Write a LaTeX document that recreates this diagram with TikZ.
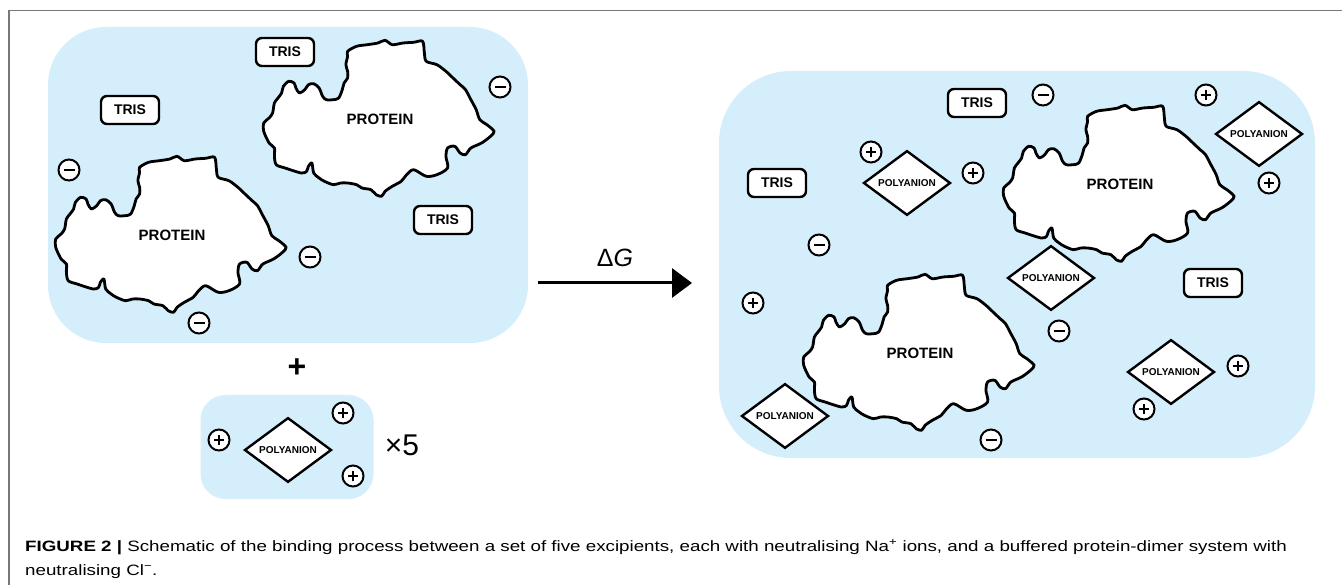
\documentclass[tikz,border=0pt]{standalone}
\usepackage{fontspec}
\setmainfont{Liberation Sans}
\newfontfamily\capfont[FakeStretch=1.25]{Liberation Sans}
\usetikzlibrary{shapes.geometric,arrows.meta}
\definecolor{panelblue}{RGB}{213,238,251}
\definecolor{framegray}{RGB}{120,120,120}
\tikzset{
  panel/.style={fill=panelblue, draw=none, inner sep=0pt},
  trisbox/.style={draw, line width=2.4pt, rounded corners=6pt, fill=white, minimum width=58pt, minimum height=28pt, inner sep=0pt, font=\fontsize{14}{14}\selectfont\bfseries},
  polybox/.style={draw, diamond, line width=2.4pt, fill=white, minimum width=87pt, minimum height=51pt, inner sep=0pt, font=\fontsize{10}{10}\selectfont\bfseries},
  ion/.style={draw, circle, line width=2pt, fill=white, minimum size=21pt, inner sep=0pt},
  cation/.style={ion, path picture={\draw[line width=1.3pt]
      ([xshift=-5pt]path picture bounding box.center) -- ([xshift=5pt]path picture bounding box.center)
      ([yshift=-5pt]path picture bounding box.center) -- ([yshift=5pt]path picture bounding box.center);}},
  anion/.style={ion, path picture={\draw[line width=1.3pt]
      ([xshift=-5.5pt]path picture bounding box.center) -- ([xshift=5.5pt]path picture bounding box.center);}},
  protlabel/.style={font=\fontsize{15}{15}\selectfont\bfseries},
  captext/.style={anchor=base west, font=\capfont\fontsize{15}{15}\selectfont, inner sep=0pt},
  protein/.pic={
    \draw[line width=2.8pt, fill=white, line join=round] plot[smooth cycle, tension=0.5] coordinates {
      (-30.4,-66.7) (-21.4,-71.7) (-10.7,-73.3) (0,-75) (7.1,-77.7) (14.3,-73.3) (25,-75) (35.7,-75.7)
      (44.6,-76.7) (46.4,-65) (48.2,-56.7) (58.9,-53.3) (67.9,-46.7) (75,-40) (82.1,-33.3) (87.5,-28.3)
      (92.9,-18.3) (98.2,-8.3) (101.8,1.7) (108.9,6.7) (116.1,13.3) (112.5,18.3) (103.6,25) (92.9,30)
      (87.5,36.7) (82.1,35) (76.8,28.3) (69.6,30) (67.9,38.3) (69.6,50) (58.9,56.7) (48.2,58.3)
      (35.7,51.7) (28.6,56.7) (23.2,63.3) (14.3,68.3) (7.1,73.3) (3.6,78.3) (-1.8,76.7) (-7.1,71.7)
      (-16.1,70) (-21.4,66.7) (-30.4,65) (-37.5,65) (-44.6,66.7) (-53.6,63.3) (-58.9,60) (-64.3,55)
      (-66.1,45) (-69.6,48.3) (-71.4,53.3) (-76.8,55) (-92.9,50) (-101.8,46.7) (-103.6,38.3) (-103.6,30)
      (-108.9,25) (-114.3,13.3) (-114.3,5) (-108.9,0) (-105.4,-5) (-103.6,-15) (-100,-20) (-96.4,-25)
      (-94.6,-31.7) (-89.3,-36.7) (-83.9,-35) (-82.1,-30) (-78.6,-25) (-73.2,-28.3) (-69.6,-33.3) (-64.3,-34.3)
      (-58.9,-30) (-55.4,-21.7) (-51.8,-18.3) (-44.6,-18.3) (-39.3,-20) (-35.7,-28.3) (-33.9,-35) (-30.4,-40)
      (-30.4,-46.7) (-32.1,-53.3) (-30.4,-61.7)};
    \node[protlabel] (-label) at (2,1) {PROTEIN};
  }
}
\begin{document}
\begin{tikzpicture}[x=1pt,y=-1pt]
\useasboundingbox (0,0) rectangle (1342,585);
% frame
\coordinate (fA) at (9,585);
\coordinate (fB) at (9,10.5);
\coordinate (fC) at (1342,10.5);
\draw[framegray, line width=1.3pt] (fA) -- (fB) -- (fC);

% panels
\node[panel, rounded corners=58pt, minimum width=480pt, minimum height=316pt] (lp) at (288,185) {};
\node[panel, rounded corners=72pt, minimum width=596pt, minimum height=387pt] (rp) at (1017,264.5) {};
\node[panel, rounded corners=25pt, minimum width=173pt, minimum height=104pt] (sp) at (287,447) {};

% left panel
\pic (pA) at (378,118) {protein};
\pic (pB) at (170,234) {protein};
\node[trisbox] (t1) at (285,52) {TRIS};
\node[trisbox] (t2) at (130,110) {TRIS};
\node[trisbox] (t3) at (443,220) {TRIS};
\node[anion] (m1) at (500,87) {};
\node[anion] (m2) at (69,170) {};
\node[anion] (m3) at (310,257) {};
\node[anion] (m4) at (199,323) {};

% plus and small box
\node[font=\fontsize{32}{32}\selectfont\bfseries] (plus) at (297,368) {+};
\node[polybox] (sd) at (288,450) {POLYANION};
\node[cation] (sc1) at (219,440) {};
\node[cation] (sc2) at (343,413) {};
\node[cation] (sc3) at (353,476) {};
\node[font=\fontsize{30}{30}\selectfont] (times) at (402,445) {×5};

% arrow
\coordinate (arS) at (538,283);
\coordinate (arE) at (692,283);
\draw[line width=3pt, -{Triangle[length=20pt,width=29pt]}] (arS) -- (arE);
\node[font=\fontsize{25}{25}\selectfont] (dg) at (615,258) {Δ\textit{G}};

% right panel
\pic (pC) at (1118,183) {protein};
\pic (pD) at (918,352) {protein};
\node[trisbox] (t4) at (977,103) {TRIS};
\node[trisbox] (t5) at (777,183) {TRIS};
\node[trisbox] (t6) at (1213,283) {TRIS};
\node[anion] (m5) at (1043,95) {};
\node[anion] (m6) at (819,245) {};
\node[anion] (m7) at (1059,331) {};
\node[anion] (m8) at (991,440) {};
\node[cation] (c1) at (1206,95) {};
\node[cation] (c2) at (871,152) {};
\node[cation] (c3) at (973,173) {};
\node[cation] (c4) at (1269,183) {};
\node[cation] (c5) at (753,303) {};
\node[cation] (c6) at (1238,366) {};
\node[cation] (c7) at (1144,409) {};
\node[polybox] (d1) at (907,183) {POLYANION};
\node[polybox] (d2) at (1259,134) {POLYANION};
\node[polybox] (d3) at (1051,278) {POLYANION};
\node[polybox] (d4) at (1171,372) {POLYANION};
\node[polybox] (d5) at (785,416) {POLYANION};

% caption
\node[captext] (cap1) at (25,551)
  {\textbf{FIGURE 2 |} Schematic of the binding process between a set of five excipients, each with neutralising Na\textsuperscript{+} ions, and a buffered protein-dimer system with};
\node[captext] (cap2) at (25,575)
  {neutralising Cl\textsuperscript{−}.};
\end{tikzpicture}
\end{document}
